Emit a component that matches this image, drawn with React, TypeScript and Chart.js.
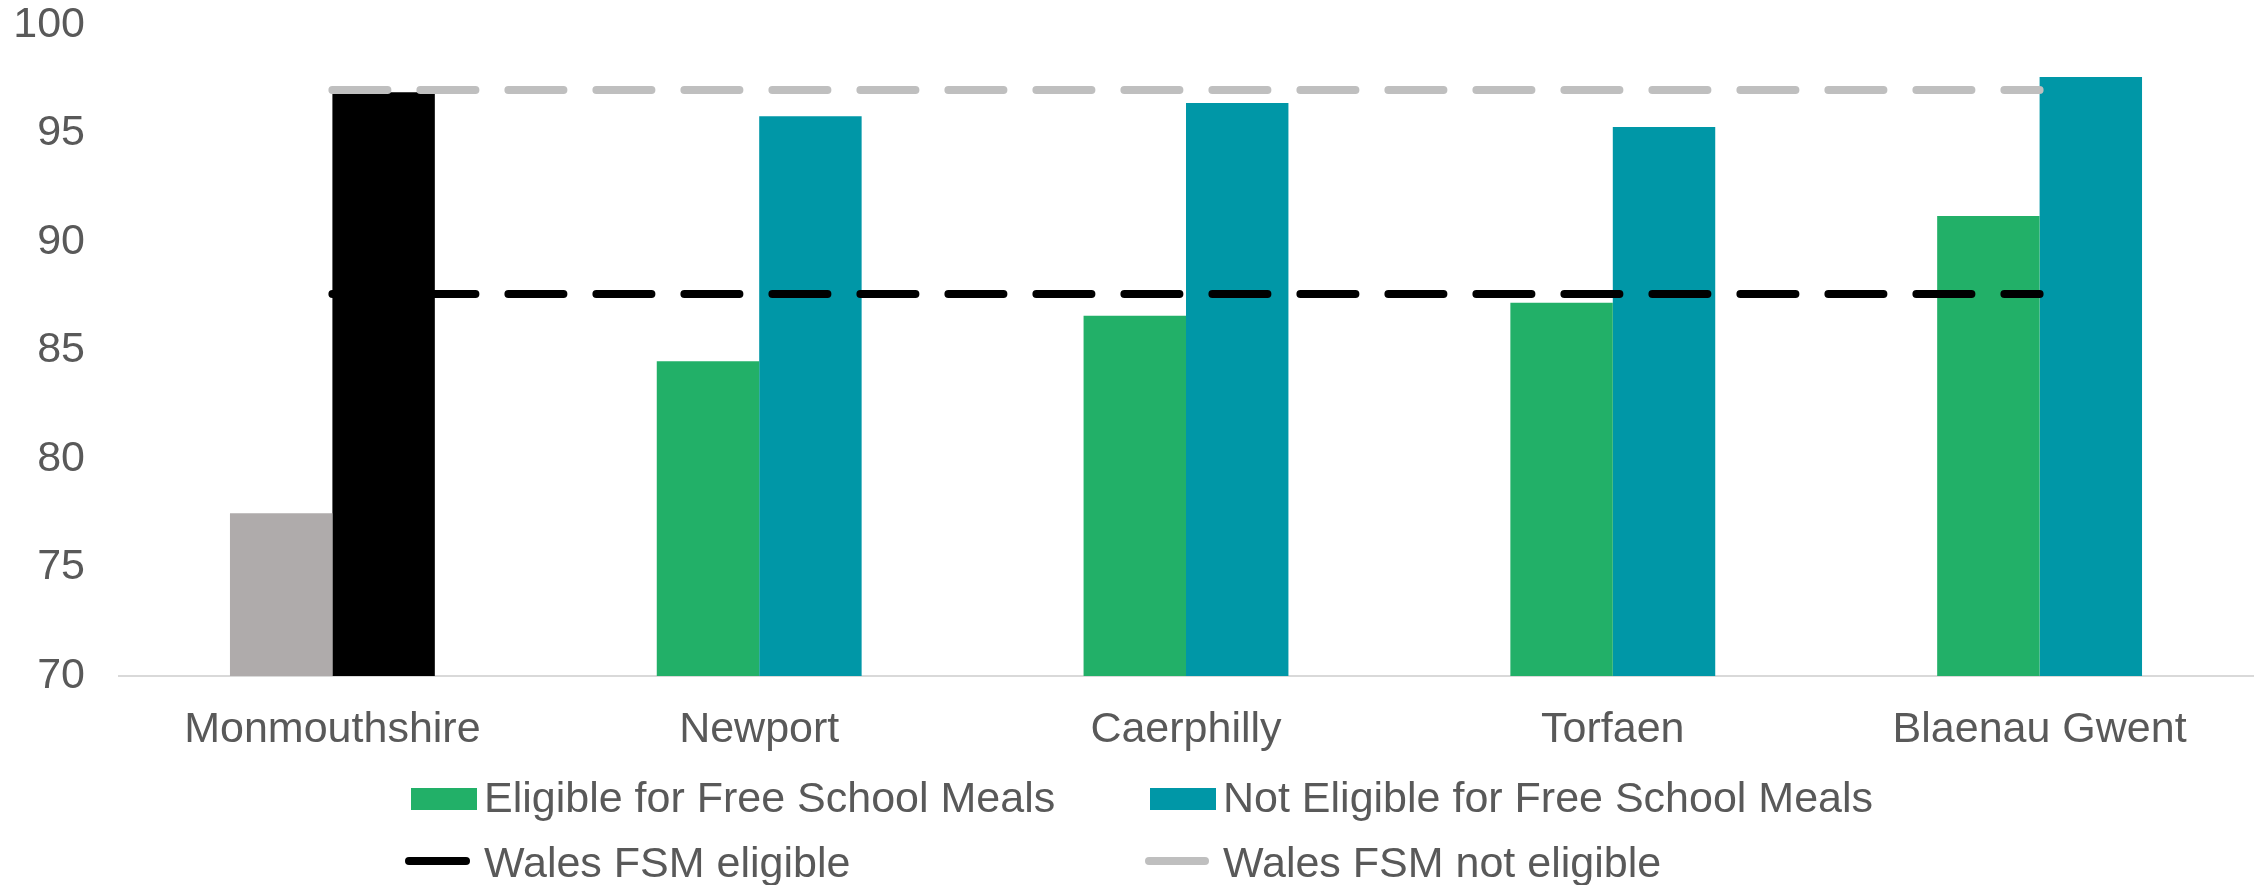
import React, { useEffect, useRef } from "react";
import { Chart, registerables } from "chart.js";

Chart.register(...registerables);

const categories = ["Monmouthshire", "Newport", "Caerphilly", "Torfaen", "Blaenau Gwent"];
const eligibleFSM = [77.5, 84.5, 86.6, 87.2, 91.2];
const notEligibleFSM = [96.9, 95.8, 96.4, 95.3, 97.6];
const walesEligible = [87.6, 87.6, 87.6, 87.6, 87.6];
const walesNotEligible = [97.0, 97.0, 97.0, 97.0, 97.0];
const yTickValues = [70, 75, 80, 85, 90, 95, 100];

const legendLabels = [
  "Eligible for Free School Meals",
  "Not Eligible for Free School Meals",
  "Wales FSM eligible",
  "Wales FSM not eligible",
];

const GREEN = "#22B068";
const TEAL = "#0097A7";
const GREY_BAR = "#AFABAB";
const BLACK = "#000000";
const GREY_LINE = "#BFBFBF";
const TEXT = "#595959";
const FONT_FAMILY = "'Liberation Sans', Arial, sans-serif";
const FONT_SIZE = 43;

const eligibleColors = [GREY_BAR, GREEN, GREEN, GREEN, GREEN];
const notEligibleColors = [BLACK, TEAL, TEAL, TEAL, TEAL];

const legendPlugin = {
  id: "customLegend",
  afterDraw(chart: any) {
    const ctx = chart.ctx;
    ctx.save();
    ctx.font = `${FONT_SIZE}px ${FONT_FAMILY}`;
    ctx.fillStyle = TEXT;
    ctx.textBaseline = "alphabetic";
    ctx.textAlign = "left";
    const colX = [411, 1150];
    const textX = [484, 1223];
    const rowBase = [812, 877];
    ctx.fillStyle = GREEN;
    ctx.fillRect(colX[0], 788, 66, 22);
    ctx.fillStyle = TEAL;
    ctx.fillRect(colX[1], 788, 66, 22);
    ctx.lineCap = "round";
    ctx.lineWidth = 8;
    ctx.strokeStyle = BLACK;
    ctx.beginPath();
    ctx.moveTo(409, 861);
    ctx.lineTo(466, 861);
    ctx.stroke();
    ctx.strokeStyle = GREY_LINE;
    ctx.beginPath();
    ctx.moveTo(1149, 861);
    ctx.lineTo(1205, 861);
    ctx.stroke();
    ctx.fillStyle = TEXT;
    ctx.fillText(legendLabels[0], textX[0], rowBase[0]);
    ctx.fillText(legendLabels[1], textX[1], rowBase[0]);
    ctx.fillText(legendLabels[2], textX[0], rowBase[1]);
    ctx.fillText(legendLabels[3], textX[1], rowBase[1]);
    ctx.restore();
  },
};

export default function App() {
  const ref = useRef<HTMLCanvasElement | null>(null);
  useEffect(() => {
    document.body.style.margin = "0";
    const canvas = ref.current;
    if (!canvas) return;
    const chart = new Chart(canvas, {
      type: "bar",
      data: {
        labels: categories,
        datasets: [
          {
            type: "line",
            label: legendLabels[2],
            data: walesEligible,
            borderColor: BLACK,
            borderWidth: 8,
            borderDash: [55, 33],
            borderCapStyle: "round",
            pointRadius: 0,
            fill: false,
            order: 0,
          } as any,
          {
            type: "line",
            label: legendLabels[3],
            data: walesNotEligible,
            borderColor: GREY_LINE,
            borderWidth: 8,
            borderDash: [55, 33],
            borderCapStyle: "round",
            pointRadius: 0,
            fill: false,
            order: 0,
          } as any,
          {
            type: "bar",
            label: legendLabels[0],
            data: eligibleFSM,
            backgroundColor: eligibleColors,
            categoryPercentage: 0.48,
            barPercentage: 1,
            order: 1,
          },
          {
            type: "bar",
            label: legendLabels[1],
            data: notEligibleFSM,
            backgroundColor: notEligibleColors,
            categoryPercentage: 0.48,
            barPercentage: 1,
            order: 1,
          },
        ],
      },
      options: {
        animation: false,
        responsive: false,
        layout: { padding: { top: 25, right: 14, left: 0, bottom: 0 } },
        plugins: { legend: { display: false }, tooltip: { enabled: false } },
        scales: {
          x: {
            grid: { display: false, drawTicks: false },
            border: { display: true, color: "#D9D9D9", width: 2 },
            ticks: {
              color: TEXT,
              font: { family: FONT_FAMILY, size: FONT_SIZE },
              padding: 28,
              maxRotation: 0,
            },
            afterFit: (scale: any) => {
              scale.height = 209;
              scale.paddingLeft = 0;
              scale.paddingRight = 0;
            },
          },
          y: {
            min: 70,
            max: 100,
            afterBuildTicks: (scale: any) => {
              scale.ticks = yTickValues.map((v) => ({ value: v }));
            },
            grid: { display: false, drawTicks: false },
            border: { display: false },
            ticks: {
              color: TEXT,
              font: { family: FONT_FAMILY, size: FONT_SIZE },
              padding: 34,
            },
            afterFit: (scale: any) => {
              scale.width = 119;
              scale.paddingTop = 0;
              scale.paddingBottom = 0;
            },
          },
        },
      },
      plugins: [legendPlugin],
    });
    return () => chart.destroy();
  }, []);
  return <canvas ref={ref} width={2267} height={885} style={{ display: "block" }} />;
}
